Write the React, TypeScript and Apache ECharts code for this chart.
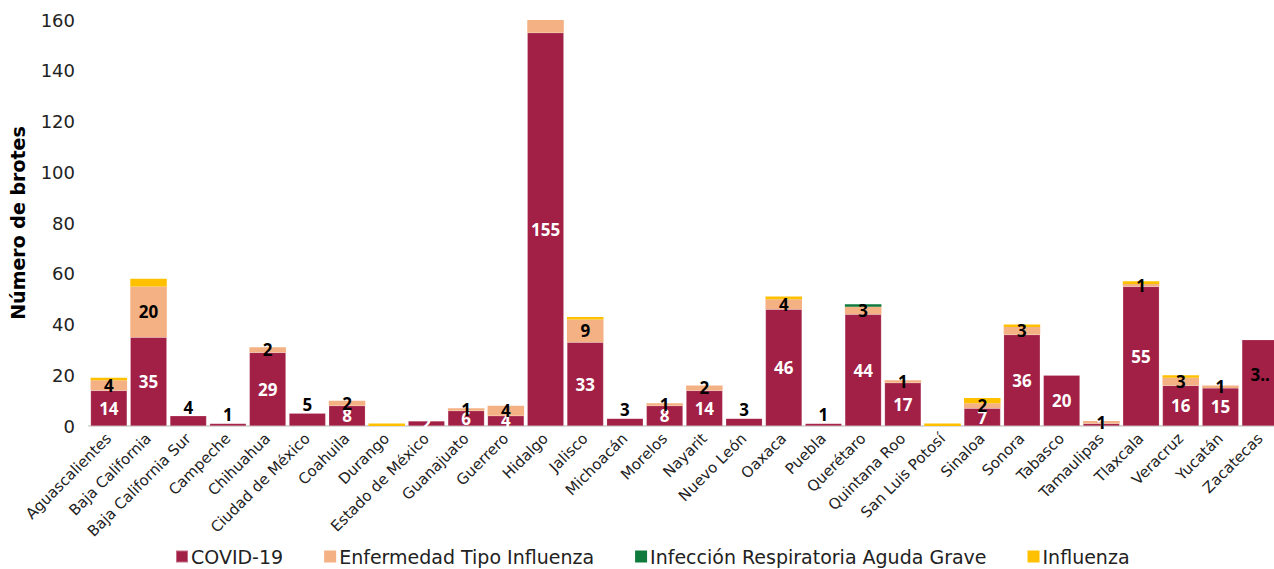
import React, { useEffect, useRef } from "react";
import * as echarts from "echarts";

const estados = [
  "Aguascalientes", "Baja California", "Baja California Sur", "Campeche", "Chihuahua",
  "Ciudad de México", "Coahuila", "Durango", "Estado de México", "Guanajuato",
  "Guerrero", "Hidalgo", "Jalisco", "Michoacán", "Morelos", "Nayarit", "Nuevo León",
  "Oaxaca", "Puebla", "Querétaro", "Quintana Roo", "San Luis Potosí", "Sinaloa",
  "Sonora", "Tabasco", "Tamaulipas", "Tlaxcala", "Veracruz", "Yucatán", "Zacatecas",
];
const covid = [14, 35, 4, 1, 29, 5, 8, 0, 2, 6, 4, 155, 33, 3, 8, 14, 3, 46, 1, 44, 17, 0, 7, 36, 20, 1, 55, 16, 15, 34];
const eti = [4, 20, 0, 0, 2, 0, 2, 0, 0, 1, 4, 5, 9, 0, 1, 2, 0, 4, 0, 3, 1, 0, 2, 3, 0, 1, 1, 3, 1, 0];
const irag = [0, 0, 0, 0, 0, 0, 0, 0, 0, 0, 0, 0, 0, 0, 0, 0, 0, 0, 0, 1, 0, 0, 0, 0, 0, 0, 0, 0, 0, 0];
const influenza = [1, 3, 0, 0, 0, 0, 0, 1, 0, 0, 0, 0, 1, 0, 0, 0, 0, 1, 0, 0, 0, 1, 2, 1, 0, 0, 1, 1, 0, 0];
// states whose COVID label sits above the bar in black
const covidLabelAbove = ["Baja California Sur", "Campeche", "Ciudad de México", "Michoacán", "Nuevo León", "Puebla"];
// state whose COVID label is cut short (the bar is clipped at the right edge)
const covidLabelTruncated = ["Zacatecas"];
const etiHiddenLabel = ["Hidalgo"];
const yTicks = [0, 20, 40, 60, 80, 100, 120, 140, 160];

const FONT = "DejaVu Sans";
const LABEL_FONT = "Noto Sans";
const C_COVID = "#A21F45";
const C_ETI = "#F4B183";
const C_IRAG = "#0E7A3C";
const C_INF = "#FFC000";

export default function App() {
  const ref = useRef<HTMLDivElement>(null);
  useEffect(() => {
    if (!ref.current) return;
    const chart = echarts.init(ref.current, undefined, { renderer: "svg" });
    const labelBase = { fontFamily: LABEL_FONT, fontWeight: "bold" as const, fontSize: 17 };
    const covidData = covid.map((v, i) => {
      const name = estados[i];
      if (covidLabelAbove.includes(name)) {
        return { value: v, label: { position: "top" as const, distance: 0, color: "#000" } };
      }
      if (covidLabelTruncated.includes(name)) {
        return {
          value: v,
          label: {
            color: "#000",
            offset: [0, -8],
            formatter: (p: any) => String(p.value).slice(0, 1) + "..",
          },
        };
      }
      return v;
    });
    const etiData = eti.map((v, i) =>
      etiHiddenLabel.includes(estados[i]) ? { value: v, label: { show: false } } : v
    );
    const hideZero = (p: any) => (p.value === 0 ? "" : String(p.value));
    chart.setOption({
      animation: false,
      textStyle: { fontFamily: FONT },
      grid: { left: 82, right: 10, top: 20, bottom: 143, containLabel: false },
      legend: {
        bottom: -2,
        left: 170,
        itemWidth: 12,
        itemHeight: 12,
        itemGap: 41,
        icon: "rect",
        textStyle: { fontFamily: FONT, fontSize: 19, color: "#222", padding: [0, 0, 0, -2] },
        data: ["COVID-19", "Enfermedad Tipo Influenza", "Infección Respiratoria Aguda Grave", "Influenza"],
      },
      xAxis: {
        type: "category",
        data: estados,
        axisLine: { lineStyle: { color: "#d9d9d9", width: 2 } },
        axisTick: { show: false },
        axisLabel: { rotate: 45, interval: 0, fontSize: 15, color: "#222", fontFamily: FONT, margin: 10 },
      },
      yAxis: {
        type: "value",
        min: yTicks[0],
        max: yTicks[yTicks.length - 1],
        interval: 20,
        name: "Número de brotes",
        nameLocation: "middle",
        nameGap: 62,
        nameTextStyle: { fontFamily: FONT, fontWeight: "bold", fontSize: 19, color: "#000" },
        axisLine: { show: false },
        axisTick: { show: false },
        splitLine: { show: false },
        axisLabel: { fontSize: 18, color: "#222", fontFamily: FONT, margin: 14 },
      },
      series: [
        {
          name: "COVID-19",
          type: "bar",
          stack: "t",
          barCategoryGap: "8%",
          itemStyle: { color: C_COVID, borderColor: "rgba(255,255,255,0.35)", borderWidth: 0.5 },
          label: { show: true, position: "inside", color: "#fff", ...labelBase, formatter: hideZero },
          data: covidData,
        },
        {
          name: "Enfermedad Tipo Influenza",
          type: "bar",
          stack: "t",
          itemStyle: { color: C_ETI },
          label: { show: true, position: "inside", color: "#000", ...labelBase, formatter: hideZero },
          data: etiData,
        },
        {
          name: "Infección Respiratoria Aguda Grave",
          type: "bar",
          stack: "t",
          itemStyle: { color: C_IRAG },
          data: irag,
        },
        {
          name: "Influenza",
          type: "bar",
          stack: "t",
          itemStyle: { color: C_INF },
          data: influenza,
        },
      ],
    });
    return () => chart.dispose();
  }, []);
  return (
    <div style={{ position: "fixed", left: 0, top: 0, width: 1274, height: 569, overflow: "hidden", background: "#fff" }}>
      <div ref={ref} style={{ width: 1290, height: 569 }} />
    </div>
  );
}
